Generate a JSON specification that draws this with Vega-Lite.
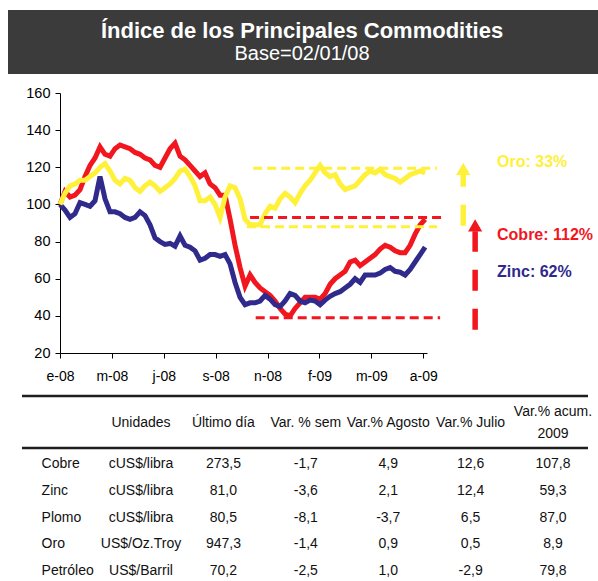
{
  "$schema": "https://vega.github.io/schema/vega-lite/v6.json",
  "width": 598,
  "height": 581,
  "autosize": {"type": "none"},
  "padding": 0,
  "background": "white",
  "config": {"view": {"stroke": null}, "font": "Liberation Sans", "text": {"font": "Liberation Sans"}},
  "resolve": {"scale": {"x": "independent", "y": "independent", "color": "independent"}, "axis": {"x": "independent", "y": "independent"}},
  "layer": [
    {
      "data": {"values": [{"banda": "encabezado"}]},
      "mark": {"type": "rect", "color": "#3b3b3b"},
      "encoding": {
        "x": {"datum": 0, "type": "quantitative", "scale": {"domain": [0, 1], "range": [8, 598]}, "axis": null},
        "x2": {"datum": 1},
        "y": {"datum": 0, "type": "quantitative", "scale": {"domain": [0, 1], "range": [10, 74]}, "axis": null},
        "y2": {"datum": 1}
      }
    },
    {
      "data": {"values": [
        {"linea": "titulo", "texto": "Índice de los Principales Commodities"},
        {"linea": "subtitulo", "texto": "Base=02/01/08"}
      ]},
      "encoding": {
        "x": {"datum": 0.5, "type": "quantitative", "scale": {"domain": [0, 1], "range": [0, 604]}, "axis": null},
        "y": {"field": "linea", "type": "nominal", "scale": {"type": "point", "domain": ["titulo", "subtitulo"], "range": [31, 54], "padding": 0}, "axis": null},
        "text": {"field": "texto"}
      },
      "layer": [
        {"transform": [{"filter": "datum.linea === 'titulo'"}], "mark": {"type": "text", "fontSize": 22, "fontWeight": "bold", "color": "#ffffff", "baseline": "middle"}},
        {"transform": [{"filter": "datum.linea === 'subtitulo'"}], "mark": {"type": "text", "fontSize": 20, "color": "#ffffff", "baseline": "middle"}}
      ]
    },
    {
      "encoding": {
        "x": {
          "field": "fecha", "type": "temporal",
          "scale": {"domain": [{"year": 2008, "month": 1, "date": 2, "utc": true}, {"year": 2009, "month": 8, "date": 11, "utc": true}], "range": [60, 427]},
          "axis": {
            "orient": "bottom", "offset": -228, "title": null, "grid": false,
            "values": [
              {"year": 2008, "month": 1, "date": 2, "utc": true},
              {"year": 2008, "month": 3, "date": 25, "utc": true},
              {"year": 2008, "month": 6, "date": 16, "utc": true},
              {"year": 2008, "month": 9, "date": 7, "utc": true},
              {"year": 2008, "month": 11, "date": 29, "utc": true},
              {"year": 2009, "month": 2, "date": 20, "utc": true},
              {"year": 2009, "month": 5, "date": 14, "utc": true},
              {"year": 2009, "month": 8, "date": 5, "utc": true}
            ],
            "labelExpr": "['e','f','m','a','m','j','j','a','s','o','n','d'][utcmonth(datum.value)] + '-' + utcFormat(datum.value, '%y')",
            "labelFontSize": 14, "labelFont": "Liberation Sans", "labelColor": "#000000",
            "labelFlush": false, "labelOverlap": false, "labelPadding": 11,
            "tickSize": 5, "tickColor": "#000000", "domainColor": "#000000"
          }
        },
        "y": {
          "field": "valor", "type": "quantitative",
          "scale": {"domain": [20, 160], "range": [353, 93], "zero": false, "nice": false},
          "axis": {
            "orient": "left", "offset": -60, "title": null, "grid": false,
            "values": [20, 40, 60, 80, 100, 120, 140, 160],
            "labelFontSize": 14.5, "labelFont": "Liberation Sans", "labelColor": "#000000",
            "labelPadding": 5, "tickSize": 5, "tickColor": "#000000", "domainColor": "#000000"
          }
        },
        "color": {"field": "serie", "type": "nominal", "scale": {"domain": ["Cobre", "Zinc", "Oro"], "range": ["#F2161F", "#2F2A8C", "#FFF03A"]}, "legend": null}
      },
      "layer": [
        {
          "data": {"values": [
            {"fecha": "2008-01-02", "Cobre": 100, "Zinc": 100, "Oro": 100},
            {"fecha": "2008-01-10", "Cobre": 107, "Zinc": 97, "Oro": 106},
            {"fecha": "2008-01-18", "Cobre": 104, "Zinc": 93, "Oro": 110},
            {"fecha": "2008-01-26", "Cobre": 105, "Zinc": 95, "Oro": 111},
            {"fecha": "2008-02-03", "Cobre": 108, "Zinc": 101, "Oro": 113},
            {"fecha": "2008-02-11", "Cobre": 115, "Zinc": 100, "Oro": 113},
            {"fecha": "2008-02-19", "Cobre": 121, "Zinc": 99, "Oro": 115},
            {"fecha": "2008-02-27", "Cobre": 125, "Zinc": 102, "Oro": 117},
            {"fecha": "2008-03-06", "Cobre": 131, "Zinc": 115, "Oro": 120},
            {"fecha": "2008-03-14", "Cobre": 127, "Zinc": 103, "Oro": 122},
            {"fecha": "2008-03-22", "Cobre": 126, "Zinc": 96, "Oro": 118},
            {"fecha": "2008-03-30", "Cobre": 130, "Zinc": 96, "Oro": 113},
            {"fecha": "2008-04-07", "Cobre": 132, "Zinc": 95, "Oro": 111},
            {"fecha": "2008-04-15", "Cobre": 131, "Zinc": 93, "Oro": 114},
            {"fecha": "2008-04-23", "Cobre": 130, "Zinc": 92, "Oro": 113},
            {"fecha": "2008-05-01", "Cobre": 128, "Zinc": 93, "Oro": 109},
            {"fecha": "2008-05-09", "Cobre": 127, "Zinc": 96, "Oro": 107},
            {"fecha": "2008-05-17", "Cobre": 125, "Zinc": 94, "Oro": 110},
            {"fecha": "2008-05-25", "Cobre": 124, "Zinc": 89, "Oro": 112},
            {"fecha": "2008-06-02", "Cobre": 121, "Zinc": 82, "Oro": 110},
            {"fecha": "2008-06-10", "Cobre": 120, "Zinc": 80, "Oro": 107},
            {"fecha": "2008-06-18", "Cobre": 125, "Zinc": 78.5, "Oro": 109},
            {"fecha": "2008-06-26", "Cobre": 130, "Zinc": 79, "Oro": 111},
            {"fecha": "2008-07-04", "Cobre": 133, "Zinc": 77.5, "Oro": 114},
            {"fecha": "2008-07-12", "Cobre": 126, "Zinc": 83, "Oro": 118},
            {"fecha": "2008-07-20", "Cobre": 124, "Zinc": 78, "Oro": 119},
            {"fecha": "2008-07-28", "Cobre": 121, "Zinc": 77, "Oro": 115},
            {"fecha": "2008-08-05", "Cobre": 118, "Zinc": 75, "Oro": 110},
            {"fecha": "2008-08-13", "Cobre": 115, "Zinc": 70, "Oro": 102},
            {"fecha": "2008-08-21", "Cobre": 117, "Zinc": 71, "Oro": 102},
            {"fecha": "2008-08-29", "Cobre": 111, "Zinc": 73, "Oro": 104},
            {"fecha": "2008-09-06", "Cobre": 109, "Zinc": 73, "Oro": 100},
            {"fecha": "2008-09-14", "Cobre": 105, "Zinc": 72, "Oro": 93},
            {"fecha": "2008-09-22", "Cobre": 105, "Zinc": 73, "Oro": 104},
            {"fecha": "2008-09-30", "Cobre": 92, "Zinc": 68, "Oro": 110},
            {"fecha": "2008-10-08", "Cobre": 78, "Zinc": 58, "Oro": 109},
            {"fecha": "2008-10-16", "Cobre": 66, "Zinc": 50, "Oro": 103},
            {"fecha": "2008-10-24", "Cobre": 56, "Zinc": 46, "Oro": 92},
            {"fecha": "2008-11-01", "Cobre": 62, "Zinc": 47, "Oro": 89},
            {"fecha": "2008-11-09", "Cobre": 58, "Zinc": 47, "Oro": 89},
            {"fecha": "2008-11-17", "Cobre": 55, "Zinc": 48, "Oro": 89},
            {"fecha": "2008-11-25", "Cobre": 53, "Zinc": 51, "Oro": 95},
            {"fecha": "2008-12-03", "Cobre": 51, "Zinc": 49, "Oro": 99},
            {"fecha": "2008-12-11", "Cobre": 48, "Zinc": 46, "Oro": 98},
            {"fecha": "2008-12-19", "Cobre": 44, "Zinc": 45, "Oro": 103},
            {"fecha": "2008-12-27", "Cobre": 41, "Zinc": 48, "Oro": 106},
            {"fecha": "2009-01-04", "Cobre": 40, "Zinc": 52, "Oro": 104},
            {"fecha": "2009-01-12", "Cobre": 44, "Zinc": 51, "Oro": 101},
            {"fecha": "2009-01-20", "Cobre": 47, "Zinc": 48, "Oro": 106},
            {"fecha": "2009-01-28", "Cobre": 50, "Zinc": 47, "Oro": 110},
            {"fecha": "2009-02-05", "Cobre": 50, "Zinc": 48.5, "Oro": 113},
            {"fecha": "2009-02-13", "Cobre": 50, "Zinc": 48, "Oro": 117},
            {"fecha": "2009-02-21", "Cobre": 49, "Zinc": 46, "Oro": 121},
            {"fecha": "2009-03-01", "Cobre": 52, "Zinc": 48.5, "Oro": 117},
            {"fecha": "2009-03-09", "Cobre": 57, "Zinc": 50.5, "Oro": 115},
            {"fecha": "2009-03-17", "Cobre": 60, "Zinc": 52, "Oro": 116},
            {"fecha": "2009-03-25", "Cobre": 62, "Zinc": 53, "Oro": 111},
            {"fecha": "2009-04-02", "Cobre": 64, "Zinc": 55, "Oro": 108},
            {"fecha": "2009-04-10", "Cobre": 69, "Zinc": 57, "Oro": 109},
            {"fecha": "2009-04-18", "Cobre": 70, "Zinc": 60, "Oro": 110},
            {"fecha": "2009-04-26", "Cobre": 67, "Zinc": 58, "Oro": 113},
            {"fecha": "2009-05-04", "Cobre": 69, "Zinc": 62, "Oro": 116},
            {"fecha": "2009-05-12", "Cobre": 71, "Zinc": 62, "Oro": 118},
            {"fecha": "2009-05-20", "Cobre": 73, "Zinc": 62, "Oro": 117},
            {"fecha": "2009-05-28", "Cobre": 76, "Zinc": 63, "Oro": 119},
            {"fecha": "2009-06-05", "Cobre": 78, "Zinc": 65, "Oro": 116},
            {"fecha": "2009-06-13", "Cobre": 77, "Zinc": 66, "Oro": 115},
            {"fecha": "2009-06-21", "Cobre": 75, "Zinc": 64, "Oro": 114},
            {"fecha": "2009-06-29", "Cobre": 74, "Zinc": 63.5, "Oro": 112},
            {"fecha": "2009-07-07", "Cobre": 74, "Zinc": 62, "Oro": 114},
            {"fecha": "2009-07-15", "Cobre": 78, "Zinc": 65, "Oro": 116},
            {"fecha": "2009-07-23", "Cobre": 84, "Zinc": 69, "Oro": 117},
            {"fecha": "2009-07-31", "Cobre": 89, "Zinc": 73, "Oro": 118},
            {"fecha": "2009-08-08", "Cobre": 92, "Zinc": 77, "Oro": 117}
          ]},
          "transform": [{"fold": ["Cobre", "Zinc", "Oro"], "as": ["serie", "valor"]}],
          "mark": {"type": "line", "strokeWidth": 5}
        },
        {
          "data": {"values": [
            {"serie": "Oro", "fecha": "2008-11-06", "fecha2": "2009-08-27", "valor": 119.5},
            {"serie": "Oro", "fecha": "2008-10-27", "fecha2": "2009-08-27", "valor": 88},
            {"serie": "Cobre", "fecha": "2008-11-01", "fecha2": "2009-09-04", "valor": 93},
            {"serie": "Cobre", "fecha": "2008-11-10", "fecha2": "2009-09-01", "valor": 39}
          ]},
          "mark": {"type": "rule", "strokeWidth": 3, "strokeDash": [9, 5]},
          "encoding": {"x2": {"field": "fecha2"}}
        },
        {
          "data": {"values": [
            {"serie": "Oro", "fecha": "2009-10-08", "valor": 88.5, "valor2": 116},
            {"serie": "Cobre", "fecha": "2009-10-27", "valor": 32.5, "valor2": 85.5}
          ]},
          "mark": {"type": "rule", "strokeWidth": 5.5, "strokeDash": [21, 18]},
          "encoding": {"y2": {"field": "valor2"}}
        },
        {
          "data": {"values": [
            {"serie": "Oro", "fecha": "2009-10-08", "valor": 119.2},
            {"serie": "Cobre", "fecha": "2009-10-27", "valor": 88.7}
          ]},
          "mark": {"type": "point", "shape": "triangle-up", "filled": true, "size": 200, "opacity": 1}
        },
        {
          "data": {"values": [
            {"serie": "Oro", "fecha": "2009-12-01", "valor": 123, "etiqueta": "Oro: 33%"},
            {"serie": "Cobre", "fecha": "2009-12-01", "valor": 83.7, "etiqueta": "Cobre: 112%"},
            {"serie": "Zinc", "fecha": "2009-12-01", "valor": 63.8, "etiqueta": "Zinc: 62%"}
          ]},
          "mark": {"type": "text", "align": "left", "baseline": "middle", "fontSize": 16, "fontWeight": "bold"},
          "encoding": {"text": {"field": "etiqueta"}}
        }
      ]
    },
    {
      "data": {"values": [{"linea": "superior"}, {"linea": "inferior"}]},
      "mark": {"type": "rule", "strokeWidth": 2.5, "color": "#1e1e1e"},
      "encoding": {
        "x": {"datum": 0, "type": "quantitative", "scale": {"domain": [0, 1], "range": [22, 588]}, "axis": null},
        "x2": {"datum": 1},
        "y": {"field": "linea", "type": "nominal", "scale": {"type": "point", "domain": ["superior", "inferior"], "range": [396, 448], "padding": 0}, "axis": null}
      }
    },
    {
      "resolve": {"scale": {"y": "independent"}},
      "layer": [
        {
          "data": {"values": [
            {"col": "u", "nivel": "centro", "texto": "Unidades"},
            {"col": "d", "nivel": "centro", "texto": "Último día"},
            {"col": "s", "nivel": "centro", "texto": "Var. % sem"},
            {"col": "a", "nivel": "centro", "texto": "Var.% Agosto"},
            {"col": "j", "nivel": "centro", "texto": "Var.% Julio"},
            {"col": "c", "nivel": "arriba", "texto": "Var.% acum."},
            {"col": "c", "nivel": "abajo", "texto": "2009"}
          ]},
          "mark": {"type": "text", "fontSize": 14, "color": "#111111", "align": "center", "baseline": "middle"},
          "encoding": {
            "x": {"field": "col", "type": "nominal", "scale": {"type": "point", "domain": ["p", "u", "d", "s", "a", "j", "c"], "range": [58.6, 553], "padding": 0}, "axis": null},
            "y": {"field": "nivel", "type": "nominal", "scale": {"type": "point", "domain": ["arriba", "centro", "abajo"], "range": [412, 434], "padding": 0}, "axis": null},
            "text": {"field": "texto"}
          }
        },
        {
          "data": {"values": [
            {"prod": "Cobre", "u": "cUS$/libra", "d": "273,5", "s": "-1,7", "a": "4,9", "j": "12,6", "c": "107,8"},
            {"prod": "Zinc", "u": "cUS$/libra", "d": "81,0", "s": "-3,6", "a": "2,1", "j": "12,4", "c": "59,3"},
            {"prod": "Plomo", "u": "cUS$/libra", "d": "80,5", "s": "-8,1", "a": "-3,7", "j": "6,5", "c": "87,0"},
            {"prod": "Oro", "u": "US$/Oz.Troy", "d": "947,3", "s": "-1,4", "a": "0,9", "j": "0,5", "c": "8,9"},
            {"prod": "Petróleo", "u": "US$/Barril", "d": "70,2", "s": "-2,5", "a": "1,0", "j": "-2,9", "c": "79,8"}
          ]},
          "layer": [
            {
              "mark": {"type": "text", "fontSize": 14, "color": "#111111", "align": "left", "baseline": "middle", "dx": -17},
              "encoding": {
                "x": {"datum": "p", "type": "nominal", "scale": {"type": "point", "domain": ["p", "u", "d", "s", "a", "j", "c"], "range": [58.6, 553], "padding": 0}, "axis": null},
                "y": {"field": "prod", "type": "nominal", "scale": {"type": "point", "domain": ["Cobre", "Zinc", "Plomo", "Oro", "Petróleo"], "range": [464, 571], "padding": 0}, "axis": null},
                "text": {"field": "prod"}
              }
            },
            {
              "transform": [{"fold": ["u", "d", "s", "a", "j", "c"], "as": ["col", "texto"]}],
              "mark": {"type": "text", "fontSize": 14, "color": "#111111", "align": "center", "baseline": "middle"},
              "encoding": {
                "x": {"field": "col", "type": "nominal", "scale": {"type": "point", "domain": ["p", "u", "d", "s", "a", "j", "c"], "range": [58.6, 553], "padding": 0}, "axis": null},
                "y": {"field": "prod", "type": "nominal", "scale": {"type": "point", "domain": ["Cobre", "Zinc", "Plomo", "Oro", "Petróleo"], "range": [464, 571], "padding": 0}, "axis": null},
                "text": {"field": "texto"}
              }
            }
          ]
        }
      ]
    }
  ]
}
